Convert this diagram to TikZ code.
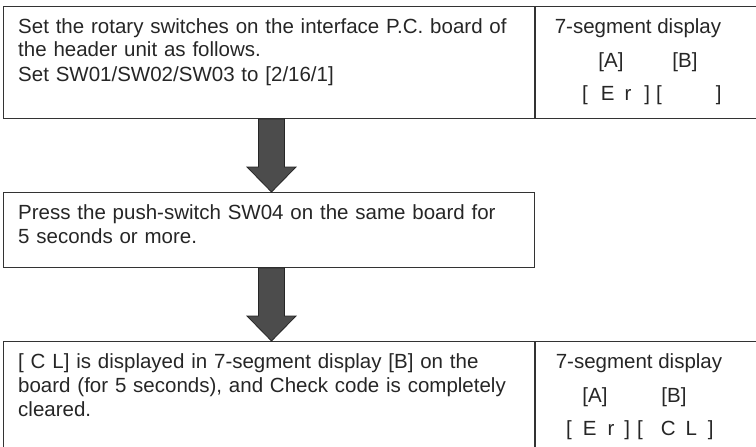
\documentclass[tikz,border=0pt]{standalone}
\usepackage{fontspec}
\setmainfont{Liberation Sans}
\usetikzlibrary{positioning}

% block arrow from the bottom of one box to the top of the next
\newcommand{\blockarrow}[2]{%
  \filldraw[arrow_style] ([xshift=-10.5pt]#1.south) -- ([xshift=15.5pt]#1.south)
    -- ([xshift=15.5pt,yshift=25pt]#2.north) -- ([xshift=27pt,yshift=25pt]#2.north)
    -- ([xshift=2.5pt]#2.north) -- ([xshift=-22pt,yshift=25pt]#2.north)
    -- ([xshift=-10.5pt,yshift=25pt]#2.north) -- cycle;}

\begin{document}
\begin{tikzpicture}[x=1pt, y=-1pt, font=\fontsize{20.5}{24}\selectfont]
    \tikzstyle{box_style} = [draw=black!80, line width=1pt, rectangle, inner sep=0pt, anchor=north west]
    \tikzstyle{text_style} = [text=black!85, inner sep=0pt, anchor=base west, text width=515pt, align=left]
    \tikzstyle{disp_style} = [text=black!85, inner sep=0pt, anchor=base]
    \tikzstyle{arrow_style} = [draw=black!85, fill=black!70, line width=0.8pt]

    \useasboundingbox (0,0) rectangle (756,447);

    \node[box_style, minimum width=531pt, minimum height=112pt] (step1) at (3,6) {};
    \node[box_style, minimum width=221pt, minimum height=112pt] (disp1) at (step1.north east) {};
    \node[box_style, minimum width=531pt, minimum height=75pt] (step2) at (3,192) {};
    \node[box_style, minimum width=531pt, minimum height=125pt] (step3) at (3,341) {};
    \node[box_style, minimum width=225pt, minimum height=125pt] (disp3) at (step3.north east) {};

    \node[text_style] (t1) at ([shift={(15,27)}]step1.north west)
        {Set the rotary switches on the interface P.C. board of\\the header unit as follows.\\Set SW01/SW02/SW03 to [2/16/1]};
    \node[text_style] (t2) at ([shift={(15,27)}]step2.north west)
        {Press the push-switch SW04 on the same board for\\5 seconds or more.};
    \node[text_style] (t3) at ([shift={(15,27)}]step3.north west)
        {[ C L] is displayed in 7-segment display [B] on the\\board (for 5 seconds), and Check code is completely\\cleared.};

    \node[disp_style] (d1) at (638,33) {7-segment display};
    \node[disp_style] (d1a) at (611,67) {[A]};
    \node[disp_style] (d1b) at (685,67) {[B]};
    \node[disp_style, anchor=base west] (d1c) at (582,100)
        {[\hspace{13pt}E\hspace{10pt}r\hspace{13pt}]\hspace{6pt}[\hspace{54pt}]};

    \node[disp_style] (d3) at (639,368) {7-segment display};
    \node[disp_style] (d3a) at (595,402) {[A]};
    \node[disp_style] (d3b) at (674,402) {[B]};
    \node[disp_style, anchor=base west] (d3c) at (566,435)
        {[\hspace{11pt}E\hspace{11pt}r\hspace{10pt}]\hspace{7pt}[\hspace{18pt}C\hspace{10pt}L\hspace{11pt}]};

    \blockarrow{step1}{step2}
    \blockarrow{step2}{step3}
\end{tikzpicture}
\end{document}
